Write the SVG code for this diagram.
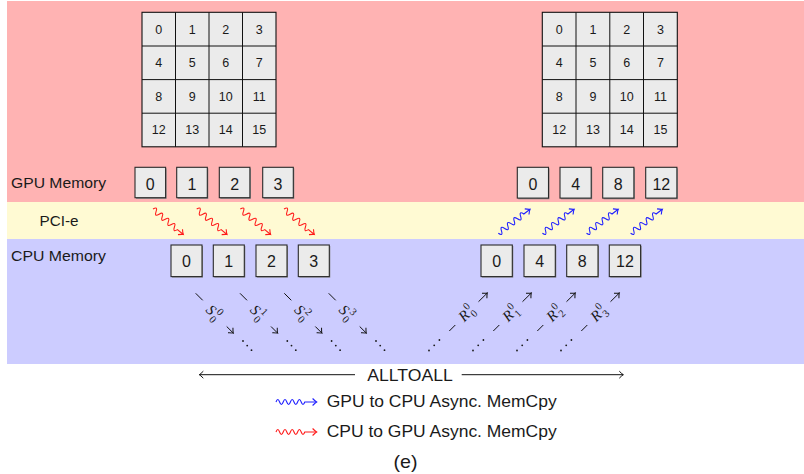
<svg xmlns="http://www.w3.org/2000/svg" width="804" height="474" viewBox="0 0 804 474">
<defs>
<style>
.t{font-family:"Liberation Sans","DejaVu Sans",sans-serif;fill:#1a1a1a}
.lbl{font-size:15px}
.cell{fill:#ebebeb;stroke:#111;stroke-width:1.1}
.gd{font-size:12.5px;text-anchor:middle}
.bx{fill:#ebebeb;stroke:#2a2a2a;stroke-width:1.1}
.sh{fill:#8a8a8a}
.bd{font-size:16px;text-anchor:middle}
.red{fill:none;stroke:#ff1a1a;stroke-width:1.1;marker-end:url(#mr)}
.blue{fill:none;stroke:#2020ff;stroke-width:1.1;marker-end:url(#mb)}
.ln{fill:none;stroke:#111;stroke-width:1}
.ar{marker-end:url(#mk)}
.m{font-family:"Liberation Serif","DejaVu Serif",serif;font-style:italic;font-size:15px;fill:#1a1a1a}
.ms{font-family:"Liberation Serif","DejaVu Serif",serif;font-size:10.5px;fill:#1a1a1a}
.dot{fill:#1a1a1a}
</style>
<marker id="mr" markerUnits="userSpaceOnUse" markerWidth="10" markerHeight="10" refX="0" refY="0" viewBox="-6 -5 8 10" orient="auto"><path d="M-4,-3.5 Q-1.2,-0.6 0,0 Q-1.2,0.6 -4,3.5" fill="none" stroke="#ff1a1a" stroke-width="1.1"/></marker>
<marker id="mb" markerUnits="userSpaceOnUse" markerWidth="10" markerHeight="10" refX="0" refY="0" viewBox="-6 -5 8 10" orient="auto"><path d="M-4,-3.5 Q-1.2,-0.6 0,0 Q-1.2,0.6 -4,3.5" fill="none" stroke="#2020ff" stroke-width="1.1"/></marker>
<marker id="mk" markerUnits="userSpaceOnUse" markerWidth="10" markerHeight="10" refX="0" refY="0" viewBox="-6 -5 8 10" orient="auto"><path d="M-4,-3.5 Q-1.2,-0.6 0,0 Q-1.2,0.6 -4,3.5" fill="none" stroke="#111" stroke-width="1"/></marker>
</defs>

<g id="bands">
<rect x="7" y="1" width="797" height="201" fill="#ffb3b3"/>
<rect x="7" y="202" width="797" height="37" fill="#fffad3"/>
<rect x="7" y="239" width="797" height="125" fill="#ccccff"/>
</g>

<g id="labels">
<text class="t lbl" x="11" y="188" textLength="95" lengthAdjust="spacingAndGlyphs">GPU Memory</text>
<text class="t lbl" x="39.5" y="226" textLength="39" lengthAdjust="spacingAndGlyphs">PCI-e</text>
<text class="t lbl" x="11" y="261" textLength="95" lengthAdjust="spacingAndGlyphs">CPU Memory</text>
</g>

<g id="grid-left">
<rect class="cell" x="142" y="12.3" width="134" height="134.5"/>
<path class="ln" d="M175.5,12.3V146.8M209,12.3V146.8M242.5,12.3V146.8M142,46H276M142,79.6H276M142,113.2H276" stroke-width="1.1"/>
<g class="t gd">
<text x="158.8" y="33.5">0</text><text x="192.3" y="33.5">1</text><text x="225.8" y="33.5">2</text><text x="259.3" y="33.5">3</text>
<text x="158.8" y="67.2">4</text><text x="192.3" y="67.2">5</text><text x="225.8" y="67.2">6</text><text x="259.3" y="67.2">7</text>
<text x="158.8" y="100.8">8</text><text x="192.3" y="100.8">9</text><text x="225.8" y="100.8">10</text><text x="259.3" y="100.8">11</text>
<text x="158.8" y="134.4">12</text><text x="192.3" y="134.4">13</text><text x="225.8" y="134.4">14</text><text x="259.3" y="134.4">15</text>
</g>
</g>

<g id="grid-right">
<rect class="cell" x="542.3" y="12.3" width="135" height="134.5"/>
<path class="ln" d="M576,12.3V146.8M609.8,12.3V146.8M643.5,12.3V146.8M542.3,46H677.3M542.3,79.6H677.3M542.3,113.2H677.3" stroke-width="1.1"/>
<g class="t gd">
<text x="559.2" y="33.5">0</text><text x="593" y="33.5">1</text><text x="626.7" y="33.5">2</text><text x="660.4" y="33.5">3</text>
<text x="559.2" y="67.2">4</text><text x="593" y="67.2">5</text><text x="626.7" y="67.2">6</text><text x="660.4" y="67.2">7</text>
<text x="559.2" y="100.8">8</text><text x="593" y="100.8">9</text><text x="626.7" y="100.8">10</text><text x="660.4" y="100.8">11</text>
<text x="559.2" y="134.4">12</text><text x="593" y="134.4">13</text><text x="626.7" y="134.4">14</text><text x="660.4" y="134.4">15</text>
</g>
</g>

<g id="gpu-left">
<g id="gl0"><rect class="sh" x="136" y="168.3" width="30.6" height="30.6"/><rect class="bx" x="135" y="167.3" width="30.6" height="30.4"/><text class="t bd" x="150.3" y="189.5">0</text></g>
<g id="gl1"><rect class="sh" x="177.7" y="168.3" width="30.6" height="30.6"/><rect class="bx" x="176.7" y="167.3" width="30.6" height="30.4"/><text class="t bd" x="192" y="189.5">1</text></g>
<g id="gl2"><rect class="sh" x="220.3" y="168.3" width="30.6" height="30.6"/><rect class="bx" x="219.3" y="167.3" width="30.6" height="30.4"/><text class="t bd" x="234.6" y="189.5">2</text></g>
<g id="gl3"><rect class="sh" x="263.7" y="168.3" width="30.6" height="30.6"/><rect class="bx" x="262.7" y="167.3" width="30.6" height="30.4"/><text class="t bd" x="278" y="189.5">3</text></g>
</g>

<g id="gpu-right">
<g id="gr0"><rect class="sh" x="518.3" y="168.3" width="31.2" height="31"/><rect class="bx" x="517.3" y="167.3" width="31.2" height="30.8"/><text class="t bd" x="532.9" y="189.5">0</text></g>
<g id="gr4"><rect class="sh" x="561" y="168.3" width="31.2" height="31"/><rect class="bx" x="560" y="167.3" width="31.2" height="30.8"/><text class="t bd" x="575.6" y="189.5">4</text></g>
<g id="gr8"><rect class="sh" x="603.7" y="168.3" width="31.2" height="31"/><rect class="bx" x="602.7" y="167.3" width="31.2" height="30.8"/><text class="t bd" x="618.3" y="189.5">8</text></g>
<g id="gr12"><rect class="sh" x="646.7" y="168.3" width="31.2" height="31"/><rect class="bx" x="645.7" y="167.3" width="31.2" height="30.8"/><text class="t bd" x="661.3" y="189.5">12</text></g>
</g>

<g id="cpu-left">
<g id="cl0"><rect class="sh" x="172" y="246" width="31" height="31.6"/><rect class="bx" x="171" y="245" width="31" height="31.6"/><text class="t bd" x="186.5" y="267.3">0</text></g>
<g id="cl1"><rect class="sh" x="214.3" y="246" width="31" height="31.6"/><rect class="bx" x="213.3" y="245" width="31" height="31.6"/><text class="t bd" x="228.8" y="267.3">1</text></g>
<g id="cl2"><rect class="sh" x="257" y="246" width="31" height="31.6"/><rect class="bx" x="256" y="245" width="31" height="31.6"/><text class="t bd" x="271.5" y="267.3">2</text></g>
<g id="cl3"><rect class="sh" x="299.3" y="246" width="31" height="31.6"/><rect class="bx" x="298.3" y="245" width="31" height="31.6"/><text class="t bd" x="313.8" y="267.3">3</text></g>
</g>

<g id="cpu-right">
<g id="cr0"><rect class="sh" x="482" y="246" width="31.3" height="31.6"/><rect class="bx" x="481" y="245" width="31.3" height="31.6"/><text class="t bd" x="496.7" y="267.3">0</text></g>
<g id="cr4"><rect class="sh" x="525" y="246" width="31.3" height="31.6"/><rect class="bx" x="524" y="245" width="31.3" height="31.6"/><text class="t bd" x="539.7" y="267.3">4</text></g>
<g id="cr8"><rect class="sh" x="567.7" y="246" width="31.3" height="31.6"/><rect class="bx" x="566.7" y="245" width="31.3" height="31.6"/><text class="t bd" x="582.3" y="267.3">8</text></g>
<g id="cr12"><rect class="sh" x="610.3" y="246" width="31.3" height="31.6"/><rect class="bx" x="609.3" y="245" width="31.3" height="31.6"/><text class="t bd" x="625" y="267.3">12</text></g>
</g>

<g id="connectors">
<g transform="translate(153,209) rotate(40.1)"><path class="red" d="M0,0 q2,-5.6 4,0 t4,0 t4,0 t4,0 t4,0 t4,0 t4,0 t4,0 l7.6,0"/></g>
<g transform="translate(196.7,209) rotate(40.1)"><path class="red" d="M0,0 q2,-5.6 4,0 t4,0 t4,0 t4,0 t4,0 t4,0 t4,0 t4,0 l7.6,0"/></g>
<g transform="translate(240.3,209) rotate(40.1)"><path class="red" d="M0,0 q2,-5.6 4,0 t4,0 t4,0 t4,0 t4,0 t4,0 t4,0 t4,0 l7.6,0"/></g>
<g transform="translate(284,209) rotate(40.1)"><path class="red" d="M0,0 q2,-5.6 4,0 t4,0 t4,0 t4,0 t4,0 t4,0 t4,0 t4,0 l7.6,0"/></g>
<g transform="translate(498.3,233.3) rotate(-37.1)"><path class="blue" d="M0,0 q2,5.6 4,0 t4,0 t4,0 t4,0 t4,0 t4,0 t4,0 t4,0 l7.8,0"/></g>
<g transform="translate(542.4,233.3) rotate(-37.1)"><path class="blue" d="M0,0 q2,5.6 4,0 t4,0 t4,0 t4,0 t4,0 t4,0 t4,0 t4,0 l7.8,0"/></g>
<g transform="translate(586.5,233.3) rotate(-37.1)"><path class="blue" d="M0,0 q2,5.6 4,0 t4,0 t4,0 t4,0 t4,0 t4,0 t4,0 t4,0 l7.8,0"/></g>
<g transform="translate(630.6,233.3) rotate(-37.1)"><path class="blue" d="M0,0 q2,5.6 4,0 t4,0 t4,0 t4,0 t4,0 t4,0 t4,0 t4,0 l7.8,0"/></g>

<g id="s0">
<path class="ln" d="M195.7,293.3L202.7,300.3"/><path class="ln ar" d="M226.7,326.5L233.3,333.1"/>
<g transform="translate(214.5,313.3) rotate(45)"><text class="m" x="-8.5" y="5">S</text><text class="ms" x="0.5" y="-1.5">0</text><text class="ms" x="0.5" y="9">0</text></g>
<circle class="dot" cx="243" cy="341" r="0.9"/><circle class="dot" cx="247.2" cy="345.6" r="0.9"/><circle class="dot" cx="251.5" cy="350.2" r="0.9"/>
</g>
<g id="s1">
<path class="ln" d="M240,293.3L247,300.3"/><path class="ln ar" d="M271,326.5L277.6,333.1"/>
<g transform="translate(258.8,313.3) rotate(45)"><text class="m" x="-8.5" y="5">S</text><text class="ms" x="0.5" y="-1.5">1</text><text class="ms" x="0.5" y="9">0</text></g>
<circle class="dot" cx="287.3" cy="341" r="0.9"/><circle class="dot" cx="291.5" cy="345.6" r="0.9"/><circle class="dot" cx="295.8" cy="350.2" r="0.9"/>
</g>
<g id="s2">
<path class="ln" d="M284.3,293.3L291.3,300.3"/><path class="ln ar" d="M315.3,326.5L321.9,333.1"/>
<g transform="translate(303.1,313.3) rotate(45)"><text class="m" x="-8.5" y="5">S</text><text class="ms" x="0.5" y="-1.5">2</text><text class="ms" x="0.5" y="9">0</text></g>
<circle class="dot" cx="331.6" cy="341" r="0.9"/><circle class="dot" cx="335.8" cy="345.6" r="0.9"/><circle class="dot" cx="340.1" cy="350.2" r="0.9"/>
</g>
<g id="s3">
<path class="ln" d="M328.7,293.3L335.7,300.3"/><path class="ln ar" d="M359.7,326.5L366.3,333.1"/>
<g transform="translate(347.5,313.3) rotate(45)"><text class="m" x="-8.5" y="5">S</text><text class="ms" x="0.5" y="-1.5">3</text><text class="ms" x="0.5" y="9">0</text></g>
<circle class="dot" cx="376" cy="341" r="0.9"/><circle class="dot" cx="380.2" cy="345.6" r="0.9"/><circle class="dot" cx="384.5" cy="350.2" r="0.9"/>
</g>

<g id="r0">
<circle class="dot" cx="429" cy="350.5" r="0.9"/><circle class="dot" cx="434.2" cy="345.3" r="0.9"/><circle class="dot" cx="439.4" cy="340" r="0.9"/>
<path class="ln" d="M449.3,331L455.3,325"/><path class="ln ar" d="M478.5,301.7L487.3,293"/>
<g transform="translate(467,312.5) rotate(-45)"><text class="m" x="-9" y="5">R</text><text class="ms" x="1.5" y="-1.5">0</text><text class="ms" x="1.5" y="9">0</text></g>
</g>
<g id="r1">
<circle class="dot" cx="473" cy="350.5" r="0.9"/><circle class="dot" cx="478.2" cy="345.3" r="0.9"/><circle class="dot" cx="483.4" cy="340" r="0.9"/>
<path class="ln" d="M493.3,331L499.3,325"/><path class="ln ar" d="M522.5,301.7L531.3,293"/>
<g transform="translate(511,312.5) rotate(-45)"><text class="m" x="-9" y="5">R</text><text class="ms" x="1.5" y="-1.5">0</text><text class="ms" x="1.5" y="9">1</text></g>
</g>
<g id="r2">
<circle class="dot" cx="517" cy="350.5" r="0.9"/><circle class="dot" cx="522.2" cy="345.3" r="0.9"/><circle class="dot" cx="527.4" cy="340" r="0.9"/>
<path class="ln" d="M537.3,331L543.3,325"/><path class="ln ar" d="M566.5,301.7L575.3,293"/>
<g transform="translate(555,312.5) rotate(-45)"><text class="m" x="-9" y="5">R</text><text class="ms" x="1.5" y="-1.5">0</text><text class="ms" x="1.5" y="9">2</text></g>
</g>
<g id="r3">
<circle class="dot" cx="561" cy="350.5" r="0.9"/><circle class="dot" cx="566.2" cy="345.3" r="0.9"/><circle class="dot" cx="571.4" cy="340" r="0.9"/>
<path class="ln" d="M581.3,331L587.3,325"/><path class="ln ar" d="M610.5,301.7L619.3,293"/>
<g transform="translate(599,312.5) rotate(-45)"><text class="m" x="-9" y="5">R</text><text class="ms" x="1.5" y="-1.5">0</text><text class="ms" x="1.5" y="9">3</text></g>
</g>

<path class="ln" d="M355,374.7H199.3" marker-end="url(#mk)"/>
<path class="ln" d="M461.7,374.7H623.3" marker-end="url(#mk)"/>
</g>

<g id="alltoall-label">
<text class="t" x="410" y="380.5" font-size="16.5" text-anchor="middle" textLength="85.4" lengthAdjust="spacingAndGlyphs">ALLTOALL</text>
</g>

<g id="legend">
<path class="blue" d="M276,402 q1.8,-5 3.6,0 t3.6,0 t3.6,0 t3.6,0 t3.6,0 t3.6,0 t3.6,0 t3.6,0 l11.8,0"/>
<text class="t" x="326.7" y="406.5" font-size="16.5" textLength="230" lengthAdjust="spacingAndGlyphs">GPU to CPU Async. MemCpy</text>
<path class="red" d="M276,432 q1.8,-5 3.6,0 t3.6,0 t3.6,0 t3.6,0 t3.6,0 t3.6,0 t3.6,0 t3.6,0 l11.8,0"/>
<text class="t" x="326.7" y="436.5" font-size="16.5" textLength="230" lengthAdjust="spacingAndGlyphs">CPU to GPU Async. MemCpy</text>
</g>

<g id="caption">
<text class="t" x="405.5" y="468" font-size="19" text-anchor="middle" textLength="24" lengthAdjust="spacingAndGlyphs">(e)</text>
</g>
</svg>
